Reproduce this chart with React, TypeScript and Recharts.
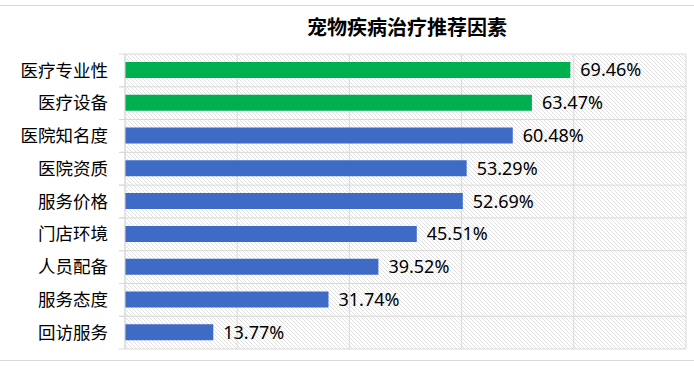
import { Bar, BarChart, CartesianGrid, Cell, LabelList, XAxis, YAxis } from "recharts";

const categories = ["医疗专业性", "医疗设备", "医院知名度", "医院资质", "服务价格", "门店环境", "人员配备", "服务态度", "回访服务"];
const values = [69.46, 63.47, 60.48, 53.29, 52.69, 45.51, 39.52, 31.74, 13.77];
const highlighted = [true, true, false, false, false, false, false, false, false];
const xTicks = [0, 17.5, 35, 52.5, 70, 87.5];

const W = 694;
const H = 367;
const margin = { top: 54, right: 8, bottom: 18, left: 0 };
const band = (H - margin.top - margin.bottom) / categories.length;

const data = categories.map((name, i) => ({ name, value: values[i], hi: highlighted[i] }));

const CategoryTick = (props: any) => {
  const { x, y, payload } = props;
  return (
    <g>
      <text
        x={x}
        y={y}
        dy="0.35em"
        textAnchor="end"
        fill="#000"
        fontSize={17.5}
        fontFamily='"Noto Sans CJK SC", sans-serif'
      >
        {payload.value}
      </text>
      <line x1={x + 11} x2={x + 17} y1={y - band / 2} y2={y - band / 2} stroke="#d9d9d9" />
      <line x1={x + 11} x2={x + 17} y1={y + band / 2} y2={y + band / 2} stroke="#d9d9d9" />
    </g>
  );
};

export default function App() {
  return (
    <div style={{ position: "relative", width: W, height: H, background: "#fff" }}>
      <style>{`body{margin:0}`}</style>
      <div style={{ position: "absolute", left: 0, right: 0, top: 5, borderTop: "1px solid #d9d9d9" }} />
      <div style={{ position: "absolute", left: 0, right: 0, top: 360, borderTop: "1px solid #d9d9d9" }} />
      <div
        style={{
          position: "absolute",
          top: 14,
          left: 307,
          width: 200,
          textAlign: "center",
          fontFamily: '"Noto Sans CJK SC", sans-serif',
          fontWeight: 700,
          fontSize: 20,
          lineHeight: "26px",
          color: "#000",
          whiteSpace: "nowrap",
        }}
      >
        宠物疾病治疗推荐因素
      </div>
      <BarChart width={W} height={H} data={data} layout="vertical" margin={margin} style={{ position: "absolute", top: 0, left: 0 }}>
        <defs>
          <pattern id="hatch" width="4" height="4" patternUnits="userSpaceOnUse">
            <rect width="4" height="4" fill="#fff" />
            <path d="M0,0 L4,4 M-1,3 L1,5 M3,-1 L5,1" stroke="#e0e0e0" strokeWidth={1} />
          </pattern>
        </defs>
        <CartesianGrid
          fill="url(#hatch)"
          fillOpacity={1}
          stroke="#d9d9d9"
          horizontalCoordinatesGenerator={({ offset }: any) =>
            Array.from({ length: categories.length + 1 }, (_, i) => offset.top + (i * offset.height) / categories.length)
          }
        />
        <XAxis type="number" domain={[0, 87.5]} ticks={xTicks} hide />
        <YAxis
          type="category"
          dataKey="name"
          width={125}
          axisLine={{ stroke: "#d9d9d9" }}
          tickLine={false}
          tickMargin={11}
          tick={<CategoryTick />}
          interval={0}
        />
        <Bar dataKey="value" barSize={16} isAnimationActive={false}>
          {data.map((d, i) => (
            <Cell key={i} fill={d.hi ? "#00b050" : "#3d6bc6"} />
          ))}
          <LabelList
            dataKey="value"
            position="right"
            offset={10}
            formatter={(v: any) => `${Number(v).toFixed(2)}%`}
            fill="#000"
            fontSize={18}
            fontFamily='"Noto Sans", sans-serif'
          />
        </Bar>
      </BarChart>
    </div>
  );
}
